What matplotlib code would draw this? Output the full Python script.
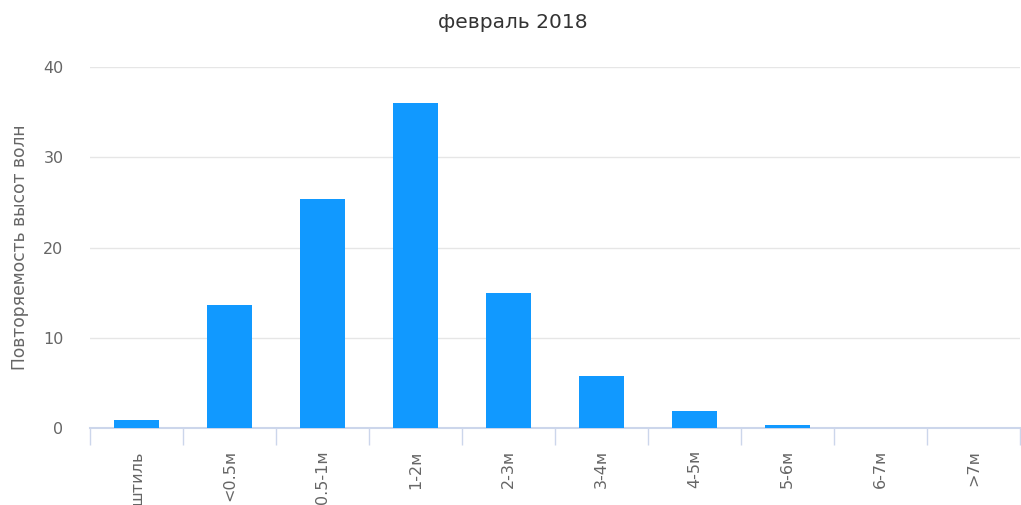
import numpy as np
import matplotlib.pyplot as plt

categories = ["штиль", "<0.5м", "0.5-1м", "1-2м", "2-3м", "3-4м", "4-5м", "5-6м", "6-7м", ">7м"]
values = [0.9, 13.6, 25.4, 36.0, 15.0, 5.8, 1.9, 0.3, 0.0, 0.0]
yticks = [0, 10, 20, 30, 40]

def main():
    fig = plt.figure(figsize=(10.21, 5.05), dpi=100)
    ax = fig.add_axes([90 / 1021, 77 / 505, 930 / 1021, 361 / 505])

    x = np.arange(len(categories))
    ax.bar(x, values, width=0.48, color="#1199ff", zorder=3)

    ax.set_xlim(-0.5, len(categories) - 0.5)
    ax.set_ylim(0, 40)
    ax.set_yticks(yticks)
    ax.grid(axis="y", color="#e6e6e6", linewidth=1, zorder=0)
    ax.tick_params(axis="y", length=0, pad=19, labelsize=11.5, labelcolor="#666666")

    ax.set_xticks(x)
    ax.set_xticklabels(categories, rotation=90, va="top", ha="center",
                       fontsize=11.5, color="#666666")
    ax.tick_params(axis="x", length=0, pad=16)
    # category separators below the axis line
    ax.set_xticks(np.arange(-0.5, len(categories), 1.0), minor=True)
    ax.tick_params(axis="x", which="minor", length=12, color="#ccd6eb", width=1)

    for side in ["top", "right", "left"]:
        ax.spines[side].set_visible(False)
    ax.spines["bottom"].set_color("#ccd6eb")
    ax.spines["bottom"].set_linewidth(1.5)

    ax.set_ylabel("Повторяемость высот волн", fontsize=12.3, color="#666666", labelpad=10)
    fig.text(513 / 1021, 1 - 22 / 505, "февраль 2018", fontsize=14.5, color="#333333",
             ha="center", va="center")

    fig.savefig("out.png", dpi=100)


main()
